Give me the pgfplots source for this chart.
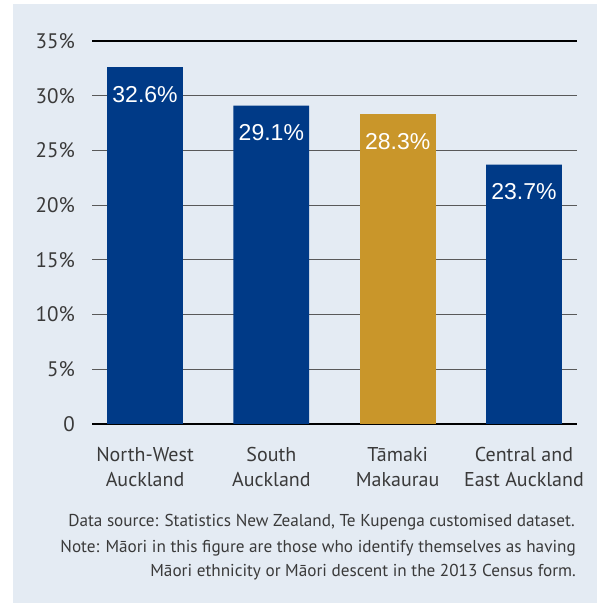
\documentclass[border=0pt]{standalone}
\usepackage{pgfplots}
\pgfplotsset{compat=1.18}
\usepackage{fontspec}
\setmainfont{PT Sans}
\newfontfamily\labfont{Liberation Sans}
\definecolor{bgc}{HTML}{E4EBF3}
\definecolor{barblue}{HTML}{003A87}
\definecolor{bargold}{HTML}{C9962A}
\definecolor{txt}{HTML}{3A3A3A}
\begin{document}
\begin{tikzpicture}[x=1bp,y=1bp]
\useasboundingbox (0,0) rectangle (597,603);
\fill[white] (0,0) rectangle (597,603);
\fill[bgc] (13,0) rectangle (597,599);
\begin{axis}[
  at={(92bp,179bp)}, anchor=south west,
  scale only axis, width=485bp, height=383bp,
  xmin=-0.42, xmax=3.42, ymin=0, ymax=35,
  axis line style={draw=none},
  major tick length=0pt,
  xtick={0,1,2,3},
  xticklabels={North-West\\Auckland, South\\Auckland, T\=amaki\\Makaurau, Central and\\East Auckland},
  xticklabel style={align=center, anchor=north, inner sep=0pt, yshift=-23bp, text=txt,
    font=\fontsize{20bp}{25bp}\selectfont},
  ytick={5,10,15,20,25,30},
  yticklabels={5\%,10\%,15\%,20\%,25\%,30\%},
  extra y ticks={0,35},
  extra y tick labels={0,35\%},
  extra y tick style={grid style={black, line width=1.1pt}},
  yticklabel style={anchor=east, inner sep=0pt, xshift=-17bp, text=txt,
    font=\fontsize{21bp}{25bp}\selectfont},
  ymajorgrids, grid style={black!65, line width=1.1pt},
  ybar, bar width=0.6, bar shift=0pt,
  nodes near coords={\pgfmathprintnumber[fixed,fixed zerofill,precision=1,assume math mode=true]{\pgfplotspointmeta}\%},
  nodes near coords align={below},
  every node near coord/.append style={anchor=north, inner sep=0pt, yshift=-19bp, text=white,
    font=\labfont\fontsize{23bp}{23bp}\selectfont},
]
\addplot[fill=barblue, draw=none] coordinates {(0,32.6) (1,29.1) (3,23.7)};
\addplot[fill=bargold, draw=none] coordinates {(2,28.3)};
\end{axis}
\begin{scope}[every node/.style={inner sep=0pt, anchor=base east, text=txt, font=\fontsize{17.2bp}{20bp}\selectfont}]
\node at (575,603-527) {Data source: Statistics New Zealand, Te Kupenga customised dataset.};
\node at (576,603-553) {Note: M\=aori in this figure are those who identify themselves as having};
\node at (576,603-577) {M\=aori ethnicity or M\=aori descent in the 2013 Census form.};
\end{scope}
\end{tikzpicture}
\end{document}
